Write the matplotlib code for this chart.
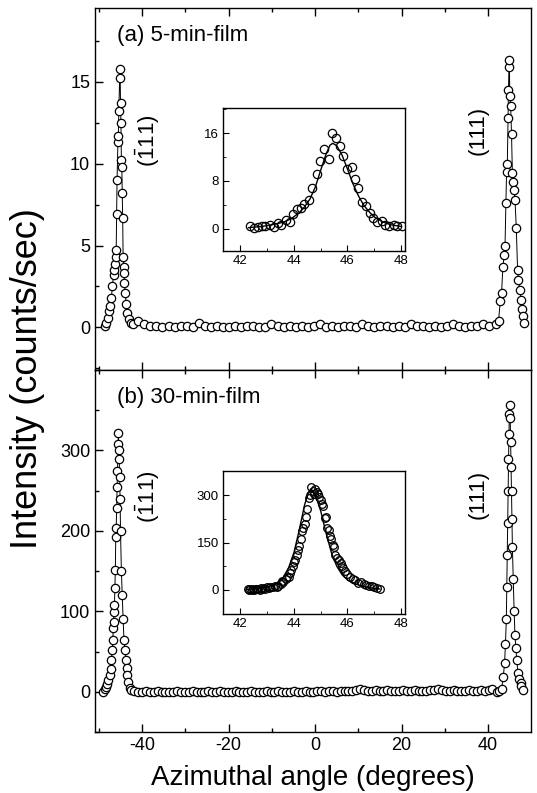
import numpy as np
import matplotlib
matplotlib.use("Agg")
import matplotlib.pyplot as plt
from matplotlib.ticker import MultipleLocator

plt.rcParams['font.family'] = ['Liberation Sans', 'DejaVu Sans']
plt.rcParams['mathtext.fontset'] = 'custom'
plt.rcParams['mathtext.rm'] = 'Liberation Sans'
plt.rcParams['axes.unicode_minus'] = False

# ---- (a) 5-min-film : azimuthal scan ----
left_a_x = [-48.6, -48.3, -48.0, -47.7, -47.4, -47.1, -46.9, -46.6, -46.4, -46.2,
            -46.1, -46.0, -45.9, -45.8, -45.6, -45.5, -45.4, -45.2, -45.1, -45.0,
            -44.9, -44.8, -44.7, -44.6, -44.5, -44.4, -44.3, -44.2, -44.1, -43.9,
            -43.7, -43.4, -43.0, -42.5, -42.0]
left_a_y = [0.1, 0.3, 0.6, 1.0, 1.3, 1.8, 2.5, 3.2, 3.5, 3.9,
            4.3, 4.7, 6.9, 9.0, 11.3, 11.7, 13.2, 15.2, 15.8, 13.7,
            12.5, 10.2, 9.8, 8.2, 6.7, 4.3, 3.7, 3.3, 2.7, 2.1,
            1.4, 0.9, 0.5, 0.3, 0.2]
base_a_x = [-40.9, -39.5, -38.1, -36.7, -35.3, -33.9, -32.5, -31.1, -29.7, -28.3,
            -26.9, -25.5, -24.1, -22.7, -21.3, -19.9, -18.5, -17.1, -15.7, -14.3,
            -12.9, -11.5, -10.1, -8.7, -7.3, -5.9, -4.5, -3.1, -1.7, -0.3,
            1.1, 2.5, 3.9, 5.3, 6.7, 8.1, 9.5, 10.9, 12.3, 13.7,
            15.1, 16.5, 17.9, 19.3, 20.7, 22.1, 23.5, 24.9, 26.3, 27.7,
            29.1, 30.5, 31.9, 33.3, 34.7, 36.1, 37.5, 38.9, 40.3]
base_a_y = [0.4, 0.2, 0.1, 0.1, 0.0, 0.1, 0.0, 0.1, 0.1, 0.0,
            0.3, 0.1, 0.0, 0.1, 0.0, 0.0, 0.1, 0.0, 0.1, 0.1,
            0.0, 0.0, 0.2, 0.1, 0.0, 0.1, 0.0, 0.1, 0.0, 0.1,
            0.2, 0.0, 0.1, 0.0, 0.1, 0.1, 0.0, 0.2, 0.1, 0.0,
            0.1, 0.1, 0.0, 0.1, 0.0, 0.2, 0.1, 0.1, 0.0, 0.1,
            0.0, 0.1, 0.2, 0.1, 0.0, 0.1, 0.1, 0.2, 0.1]
right_a_x = [41.8, 42.4, 42.8, 43.1, 43.4, 43.7, 43.9, 44.1, 44.3, 44.4,
             44.6, 44.7, 44.8, 44.9, 45.0, 45.2, 45.4, 45.6, 45.8, 46.0,
             46.2, 46.5, 46.8, 47.0, 47.3, 47.6, 47.8, 48.1, 48.4]
right_a_y = [0.2, 0.4, 1.6, 2.1, 3.7, 4.4, 5.0, 7.6, 10.0, 9.5,
             12.8, 14.5, 15.9, 16.3, 14.1, 13.5, 11.8, 9.4, 8.9, 8.4,
             7.8, 6.1, 3.5, 2.9, 2.3, 1.7, 1.1, 0.7, 0.3]

# ---- (b) 30-min-film : azimuthal scan ----
left_b_x = [-49.0, -48.7, -48.4, -48.1, -47.8, -47.5, -47.3, -47.1, -46.9, -46.8,
            -46.7, -46.6, -46.5, -46.4, -46.3, -46.2, -46.1, -46.0, -45.9, -45.8,
            -45.7, -45.6, -45.5, -45.4, -45.3, -45.2, -45.1, -45.0, -44.8, -44.6,
            -44.4, -44.2, -44.0, -43.8, -43.6, -43.4, -43.2, -42.9, -42.6]
left_b_y = [0, 3, 6, 10, 15, 21, 28, 40, 52, 64,
            79, 87, 99, 108, 129, 151, 192, 203, 228, 254,
            275, 308, 322, 300, 290, 267, 240, 200, 150, 120,
            90, 65, 52, 40, 30, 21, 12, 5, 2]
base_b_x = [-41.8, -40.9, -40.0, -39.1, -38.2, -37.3, -36.4, -35.5, -34.6, -33.7,
            -32.8, -31.9, -31.0, -30.1, -29.2, -28.3, -27.4, -26.5, -25.6, -24.7,
            -23.8, -22.9, -22.0, -21.1, -20.2, -19.3, -18.4, -17.5, -16.6, -15.7,
            -14.8, -13.9, -13.0, -12.1, -11.2, -10.3, -9.4, -8.5, -7.6, -6.7,
            -5.8, -4.9, -4.0, -3.1, -2.2, -1.3, -0.4, 0.5, 1.4, 2.3,
            3.2, 4.1, 5.0, 5.9, 6.8, 7.7, 8.6, 9.5, 10.4, 11.3,
            12.2, 13.1, 14.0, 14.9, 15.8, 16.7, 17.6, 18.5, 19.4, 20.3,
            21.2, 22.1, 23.0, 23.9, 24.8, 25.7, 26.6, 27.5, 28.4, 29.3,
            30.2, 31.1, 32.0, 32.9, 33.8, 34.7, 35.6, 36.5, 37.4, 38.3,
            39.2, 40.1, 41.0]
base_b_y = [1, 0, 0, 1, 0, 0, 1, 0, 0, 0,
            0, 1, 0, 0, 0, 1, 0, 0, 0, 1,
            0, 0, 1, 0, 0, 0, 1, 0, 0, 0,
            1, 0, 0, 0, 1, 0, 0, 1, 0, 0,
            0, 1, 0, 0, 1, 0, 0, 1, 1, 0,
            1, 1, 0, 1, 1, 1, 1, 2, 3, 2,
            1, 1, 2, 1, 1, 2, 1, 1, 1, 2,
            1, 1, 2, 1, 1, 1, 2, 2, 3, 2,
            1, 1, 2, 1, 1, 1, 2, 1, 1, 2,
            1, 2, 3]
right_b_x = [42.0, 42.6, 43.1, 43.5, 43.8, 44.0, 44.2, 44.3, 44.4, 44.5,
             44.6, 44.7, 44.8, 44.9, 45.0, 45.1, 45.2, 45.3, 45.4, 45.5,
             45.6, 45.8, 46.0, 46.2, 46.4, 46.6, 46.9, 47.2, 47.5, 47.7, 48.1]
right_b_y = [0, 1, 3, 19, 36, 60, 90, 130, 170, 210,
             250, 290, 320, 345, 356, 340, 310, 280, 250, 215,
             180, 140, 100, 70, 55, 40, 23, 16, 11, 7, 2]

# ---- insets: (111) peak, points + fitted curve ----
ins_a_x = [42.36, 42.51, 42.64, 42.79, 42.91, 43.11, 43.26, 43.41, 43.53, 43.69,
           43.85, 43.98, 44.10, 44.25, 44.39, 44.55, 44.68, 44.86, 44.99, 45.14,
           45.30, 45.42, 45.58, 45.73, 45.85, 45.98, 46.16, 46.29, 46.41, 46.54,
           46.70, 46.84, 46.97, 47.09, 47.28, 47.40, 47.56, 47.74, 47.86, 48.02]
ins_a_y = [0.4, 0.15, 0.3, 0.4, 0.5, 0.7, 0.3, 1.0, 0.6, 1.4,
           1.2, 2.5, 3.3, 3.5, 4.1, 4.9, 6.8, 9.1, 11.3, 13.3,
           11.6, 16.0, 15.2, 13.8, 12.1, 10.0, 10.4, 8.4, 6.8, 4.5,
           3.9, 2.7, 1.8, 1.1, 1.3, 0.7, 0.4, 0.7, 0.4, 0.4]
fit_a_x = [42.3, 42.8, 43.2, 43.6, 43.9, 44.2, 44.4, 44.6, 44.8, 45.0, 45.2, 45.35,
           45.45, 45.6, 45.8, 46.0, 46.2, 46.4, 46.6, 46.8, 47.0, 47.3, 47.6, 48.0]
fit_a_y = [0.2, 0.4, 0.7, 1.1, 1.7, 2.7, 3.7, 5.0, 7.0, 9.8, 12.5, 14.0,
           14.3, 13.9, 12.3, 10.0, 7.6, 5.6, 4.0, 2.9, 2.0, 1.2, 0.7, 0.4]

ins_b_x = [42.27, 42.32, 42.37, 42.42, 42.47, 42.52, 42.57, 42.62, 42.67, 42.72,
           42.77, 42.82, 42.87, 42.92, 43.0, 43.05, 43.1, 43.2, 43.3, 43.35,
           43.4, 43.5, 43.55, 43.6, 43.7, 43.75, 43.8, 43.85, 43.9, 43.95,
           44.0, 44.05, 44.1, 44.15, 44.2, 44.25, 44.3, 44.35, 44.4, 44.45,
           44.5, 44.55, 44.6, 44.65, 44.7, 44.75, 44.8, 44.85, 44.9, 44.95,
           45.0, 45.05, 45.1, 45.15, 45.2, 45.25, 45.3, 45.35, 45.4, 45.45,
           45.5, 45.55, 45.6, 45.7, 45.75, 45.8, 45.85, 45.9, 46.0, 46.1,
           46.2, 46.3, 46.4, 46.5, 46.6, 46.7, 46.8, 46.9, 47.0, 47.1, 47.2]
ins_b_y = [2, 0, 3, 1, 2, 0, 4, 2, 3, 1,
           5, 3, 6, 4, 8, 6, 10, 9, 12, 8,
           14, 20, 28, 25, 35, 42, 40, 55, 62, 75,
           88, 95, 110, 125, 138, 160, 185, 195, 210, 232,
           255, 290, 300, 325, 312, 305, 318, 310, 302, 295,
           285, 272, 265, 228, 232, 195, 190, 170, 160, 142,
           135, 110, 100, 95, 85, 75, 68, 60, 52, 42,
           35, 30, 22, 25, 18, 15, 12, 12, 8, 6, 2]
fit_b_x = [42.25, 42.6, 43.0, 43.3, 43.6, 43.8, 44.0, 44.2, 44.4, 44.55, 44.65,
           44.8, 45.0, 45.2, 45.4, 45.6, 45.8, 46.0, 46.3, 46.6, 47.0, 47.2]
fit_b_y = [2, 4, 9, 18, 40, 70, 118, 190, 270, 310, 318,
           300, 250, 180, 118, 75, 48, 32, 19, 11, 5, 3]


def scan_plot(ax, xs, ys, ms=6):
    ax.plot(xs, ys, '-', color='black', lw=0.7, marker='o', ms=ms,
            mfc='white', mec='black', mew=0.9)


fig = plt.figure(figsize=(5.37, 7.93), dpi=100)
ax_a = fig.add_axes([0.1769, 0.5334, 0.8119, 0.4565])
ax_b = fig.add_axes([0.1769, 0.0769, 0.8119, 0.4565])

scan_plot(ax_a, left_a_x + base_a_x + right_a_x, left_a_y + base_a_y + right_a_y)
scan_plot(ax_b, left_b_x + base_b_x + right_b_x, left_b_y + base_b_y + right_b_y)

for ax in (ax_a, ax_b):
    ax.set_xlim(-50.9, 49.9)
    ax.xaxis.set_major_locator(MultipleLocator(20))
    ax.xaxis.set_minor_locator(MultipleLocator(10))
    ax.tick_params(which='both', direction='in', top=True, right=False,
                   labelsize=13, width=1)
    ax.tick_params(which='major', length=6)
    ax.tick_params(which='minor', length=3)
    for s in ax.spines.values():
        s.set_linewidth(1)

ax_a.set_ylim(-2.6, 19.5)
ax_a.set_yticks([0, 5, 10, 15])
ax_a.yaxis.set_minor_locator(MultipleLocator(2.5))
ax_a.tick_params(labelbottom=False)
ax_b.set_ylim(-50, 400)
ax_b.set_yticks([0, 100, 200, 300])
ax_b.yaxis.set_minor_locator(MultipleLocator(50))
ax_b.set_xlabel('Azimuthal angle (degrees)', fontsize=20, labelpad=8)

ax_a.text(0.05, 0.925, '(a) 5-min-film', transform=ax_a.transAxes, fontsize=16,
          va='center', ha='left')
ax_b.text(0.05, 0.925, '(b) 30-min-film', transform=ax_b.transAxes, fontsize=16,
          va='center', ha='left')

ax_a.text(-38.6, 11.4, r'$\mathregular{(\bar{1}11)}$', rotation=90, fontsize=16,
          ha='center', va='center')
ax_a.text(37.6, 12.0, '(111)', rotation=90, fontsize=16, ha='center', va='center')
ax_b.text(-38.6, 243, r'$\mathregular{(\bar{1}11)}$', rotation=90, fontsize=16,
          ha='center', va='center')
ax_b.text(37.6, 245, '(111)', rotation=90, fontsize=16, ha='center', va='center')

fig.text(0.052, 0.523, 'Intensity (counts/sec)', rotation=90, fontsize=26,
         ha='center', va='center')

# insets
in_a = fig.add_axes([0.4153, 0.6835, 0.3389, 0.1803])
in_b = fig.add_axes([0.4153, 0.2257, 0.3389, 0.1803])
in_a.plot(fit_a_x, fit_a_y, '-', color='black', lw=1.0)
in_a.plot(ins_a_x, ins_a_y, 'o', ms=6, mfc='none', mec='black', mew=0.9)
in_b.plot(fit_b_x, fit_b_y, '-', color='black', lw=1.0)
in_b.plot(ins_b_x, ins_b_y, 'o', ms=5.5, mfc='none', mec='black', mew=0.9)

for ax in (in_a, in_b):
    ax.set_xlim(41.35, 48.15)
    ax.set_xticks([42, 44, 46, 48])
    ax.xaxis.set_minor_locator(MultipleLocator(1))
    ax.tick_params(which='both', direction='in', labelsize=9.5, pad=3)
    ax.tick_params(which='major', length=4)
    ax.tick_params(which='minor', length=2)
    for s in ax.spines.values():
        s.set_linewidth(1)

in_a.set_ylim(-3.7, 20.2)
in_a.set_yticks([0, 8, 16])
in_a.yaxis.set_minor_locator(MultipleLocator(4))
in_b.set_ylim(-76, 376)
in_b.set_yticks([0, 150, 300])
in_b.yaxis.set_minor_locator(MultipleLocator(75))

fig.savefig('out.png', dpi=100)
